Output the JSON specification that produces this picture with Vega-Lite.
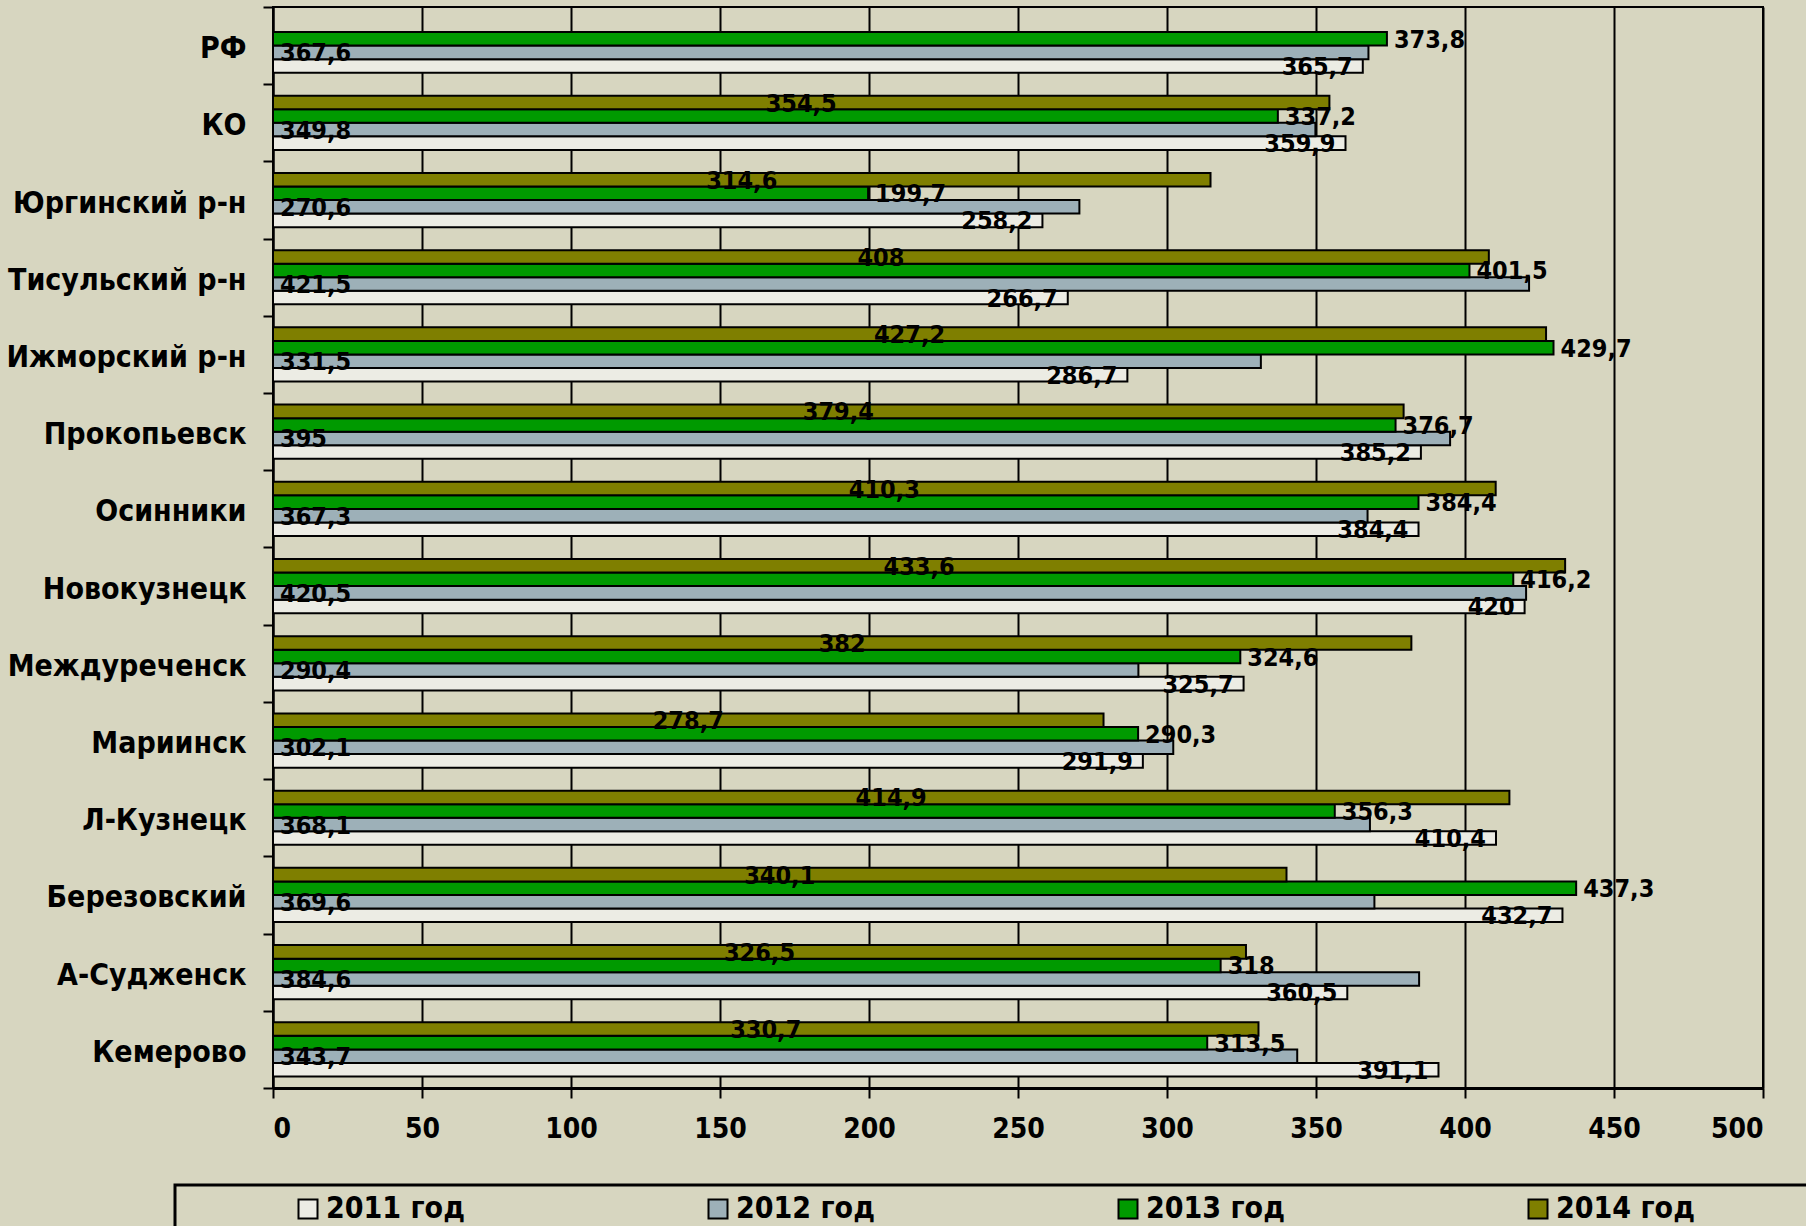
{
  "$schema": "https://vega.github.io/schema/vega-lite/v6.json",
  "width": 1490,
  "height": 1081,
  "autosize": {"type": "none"},
  "padding": {"left": 273, "top": 7, "right": 43, "bottom": 138},
  "background": "#D7D6C0",
  "config": {
    "font": "DejaVu Sans Condensed, DejaVu Sans",
    "view": {"stroke": "#000000", "strokeWidth": 2},
    "legend": {"strokeWidth": 3}
  },
  "data": {
    "values": [
      {"region": "РФ", "year": "2011 год", "value": 365.7},
      {"region": "РФ", "year": "2012 год", "value": 367.6},
      {"region": "РФ", "year": "2013 год", "value": 373.8},
      {"region": "КО", "year": "2011 год", "value": 359.9},
      {"region": "КО", "year": "2012 год", "value": 349.8},
      {"region": "КО", "year": "2013 год", "value": 337.2},
      {"region": "КО", "year": "2014 год", "value": 354.5},
      {"region": "Юргинский р-н", "year": "2011 год", "value": 258.2},
      {"region": "Юргинский р-н", "year": "2012 год", "value": 270.6},
      {"region": "Юргинский р-н", "year": "2013 год", "value": 199.7},
      {"region": "Юргинский р-н", "year": "2014 год", "value": 314.6},
      {"region": "Тисульский р-н", "year": "2011 год", "value": 266.7},
      {"region": "Тисульский р-н", "year": "2012 год", "value": 421.5},
      {"region": "Тисульский р-н", "year": "2013 год", "value": 401.5},
      {"region": "Тисульский р-н", "year": "2014 год", "value": 408},
      {"region": "Ижморский р-н", "year": "2011 год", "value": 286.7},
      {"region": "Ижморский р-н", "year": "2012 год", "value": 331.5},
      {"region": "Ижморский р-н", "year": "2013 год", "value": 429.7},
      {"region": "Ижморский р-н", "year": "2014 год", "value": 427.2},
      {"region": "Прокопьевск", "year": "2011 год", "value": 385.2},
      {"region": "Прокопьевск", "year": "2012 год", "value": 395},
      {"region": "Прокопьевск", "year": "2013 год", "value": 376.7},
      {"region": "Прокопьевск", "year": "2014 год", "value": 379.4},
      {"region": "Осинники", "year": "2011 год", "value": 384.4},
      {"region": "Осинники", "year": "2012 год", "value": 367.3},
      {"region": "Осинники", "year": "2013 год", "value": 384.4},
      {"region": "Осинники", "year": "2014 год", "value": 410.3},
      {"region": "Новокузнецк", "year": "2011 год", "value": 420},
      {"region": "Новокузнецк", "year": "2012 год", "value": 420.5},
      {"region": "Новокузнецк", "year": "2013 год", "value": 416.2},
      {"region": "Новокузнецк", "year": "2014 год", "value": 433.6},
      {"region": "Междуреченск", "year": "2011 год", "value": 325.7},
      {"region": "Междуреченск", "year": "2012 год", "value": 290.4},
      {"region": "Междуреченск", "year": "2013 год", "value": 324.6},
      {"region": "Междуреченск", "year": "2014 год", "value": 382},
      {"region": "Мариинск", "year": "2011 год", "value": 291.9},
      {"region": "Мариинск", "year": "2012 год", "value": 302.1},
      {"region": "Мариинск", "year": "2013 год", "value": 290.3},
      {"region": "Мариинск", "year": "2014 год", "value": 278.7},
      {"region": "Л-Кузнецк", "year": "2011 год", "value": 410.4},
      {"region": "Л-Кузнецк", "year": "2012 год", "value": 368.1},
      {"region": "Л-Кузнецк", "year": "2013 год", "value": 356.3},
      {"region": "Л-Кузнецк", "year": "2014 год", "value": 414.9},
      {"region": "Березовский", "year": "2011 год", "value": 432.7},
      {"region": "Березовский", "year": "2012 год", "value": 369.6},
      {"region": "Березовский", "year": "2013 год", "value": 437.3},
      {"region": "Березовский", "year": "2014 год", "value": 340.1},
      {"region": "А-Судженск", "year": "2011 год", "value": 360.5},
      {"region": "А-Судженск", "year": "2012 год", "value": 384.6},
      {"region": "А-Судженск", "year": "2013 год", "value": 318},
      {"region": "А-Судженск", "year": "2014 год", "value": 326.5},
      {"region": "Кемерово", "year": "2011 год", "value": 391.1},
      {"region": "Кемерово", "year": "2012 год", "value": 343.7},
      {"region": "Кемерово", "year": "2013 год", "value": 313.5},
      {"region": "Кемерово", "year": "2014 год", "value": 330.7}
    ]
  },
  "encoding": {
    "y": {
      "field": "region",
      "type": "nominal",
      "sort": ["РФ", "КО", "Юргинский р-н", "Тисульский р-н", "Ижморский р-н", "Прокопьевск", "Осинники", "Новокузнецк", "Междуреченск", "Мариинск", "Л-Кузнецк", "Березовский", "А-Судженск", "Кемерово"],
      "scale": {"paddingInner": 0, "paddingOuter": 0},
      "axis": {
        "title": null,
        "tickBand": "extent",
        "domain": true,
        "domainColor": "#000000",
        "domainWidth": 2,
        "ticks": true,
        "tickColor": "#000000",
        "tickWidth": 2,
        "tickSize": 10,
        "labelFontSize": 30,
        "labelFontWeight": "bold",
        "labelColor": "#000000",
        "labelPadding": 17,
        "labelOffset": 3,
        "labelLimit": 0,
        "grid": false
      }
    },
    "yOffset": {
      "field": "year",
      "type": "nominal",
      "scale": {"domain": ["2014 год", "2013 год", "2012 год", "2011 год"], "paddingInner": 0, "paddingOuter": 0.85}
    }
  },
  "layer": [
    {
      "mark": {"type": "bar", "stroke": "#000000", "strokeWidth": 2},
      "encoding": {
        "x": {
          "field": "value",
          "type": "quantitative",
          "scale": {"domain": [0, 500], "nice": false},
          "axis": {
            "title": null,
            "values": [0, 50, 100, 150, 200, 250, 300, 350, 400, 450, 500],
            "grid": true,
            "gridColor": "#000000",
            "gridWidth": 2,
            "gridOpacity": 1,
            "domainColor": "#000000",
            "domainWidth": 3,
            "tickColor": "#000000",
            "tickWidth": 2,
            "tickSize": 10,
            "labelFontSize": 28,
            "labelFontWeight": "bold",
            "labelColor": "#000000",
            "labelPadding": 17
          }
        },
        "color": {
          "field": "year",
          "type": "nominal",
          "scale": {"domain": ["2011 год", "2012 год", "2013 год", "2014 год"], "range": ["#ECECE4", "#9DB0B8", "#009A00", "#7F7F00"]},
          "legend": {
            "orient": "none",
            "legendX": -98,
            "legendY": 1178,
            "direction": "horizontal",
            "title": " ",
            "titleOrient": "left",
            "titleFontSize": 10,
            "titlePadding": 109,
            "padding": 9,
            "strokeColor": "#000000",
            "symbolType": "square",
            "symbolSize": 361,
            "symbolStrokeColor": "#000000",
            "symbolStrokeWidth": 2,
            "symbolOpacity": 1,
            "labelFontSize": 30,
            "labelFontWeight": "bold",
            "labelColor": "#000000",
            "labelOffset": 3,
            "labelLimit": 0,
            "columnPadding": 238,
            "labelExpr": "indexof(datum.label, '2014') >= 0 ? datum.label + '\u00a0\u00a0\u00a0\u00a0\u00a0\u00a0\u00a0\u00a0\u00a0\u00a0\u00a0\u200b' : datum.label"
          }
        }
      }
    },
    {
      "transform": [{"filter": "datum.year == '2011 год'"}],
      "mark": {"type": "text", "align": "right", "baseline": "middle", "dx": -10, "dy": 1, "fontSize": 25, "fontWeight": "bold", "color": "#000000", "text": {"expr": "replace(format(datum.value, '~f'), '.', ',')"}},
      "encoding": {
        "x": {"field": "value", "type": "quantitative", "scale": {"domain": [0, 500], "nice": false}, "axis": null}
      }
    },
    {
      "transform": [{"filter": "datum.year == '2012 год'"}],
      "mark": {"type": "text", "align": "left", "baseline": "middle", "dx": 7, "dy": 1, "fontSize": 25, "fontWeight": "bold", "color": "#000000", "text": {"expr": "replace(format(datum.value, '~f'), '.', ',')"}},
      "encoding": {
        "x": {"datum": 0, "type": "quantitative", "scale": {"domain": [0, 500], "nice": false}, "axis": null}
      }
    },
    {
      "transform": [{"filter": "datum.year == '2013 год'"}],
      "mark": {"type": "text", "align": "left", "baseline": "middle", "dx": 7, "dy": 1, "fontSize": 25, "fontWeight": "bold", "color": "#000000", "text": {"expr": "replace(format(datum.value, '~f'), '.', ',')"}},
      "encoding": {
        "x": {"field": "value", "type": "quantitative", "scale": {"domain": [0, 500], "nice": false}, "axis": null}
      }
    },
    {
      "transform": [{"filter": "datum.year == '2014 год'"}],
      "mark": {"type": "text", "align": "center", "baseline": "middle", "dy": 1, "fontSize": 25, "fontWeight": "bold", "color": "#000000", "text": {"expr": "replace(format(datum.value, '~f'), '.', ',')"}},
      "encoding": {
        "x": {"field": "value", "type": "quantitative", "scale": {"domain": [0, 1000], "nice": false}, "axis": null}
      }
    }
  ],
  "resolve": {"scale": {"x": "independent"}}
}
